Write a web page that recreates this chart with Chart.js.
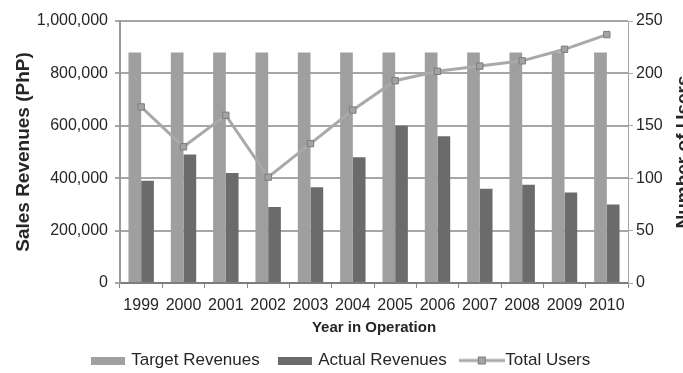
<!DOCTYPE html>
<html>
<head>
<meta charset="utf-8">
<script src="https://cdn.jsdelivr.net/npm/chart.js@4/dist/chart.umd.min.js"></script>
<style>
  html, body { margin: 0; padding: 0; background: #fff; overflow: hidden; }
  #wrap { width: 683px; height: 373px; }
</style>
</head>
<body>
<div id="wrap"><canvas id="revChart" width="683" height="373"></canvas></div>
<script>
const years = ['1999', '2000', '2001', '2002', '2003', '2004', '2005', '2006', '2007', '2008', '2009', '2010'];
const targetRevenues = [880000, 880000, 880000, 880000, 880000, 880000, 880000, 880000, 880000, 880000, 880000, 880000];
const actualRevenues = [390000, 490000, 420000, 290000, 365000, 480000, 600000, 560000, 360000, 375000, 345000, 300000];
const totalUsers = [168, 130, 160, 101, 133, 165, 193, 202, 207, 212, 223, 237];

const FONT = '"Liberation Sans", Arial, sans-serif';
const TEXT = '#262626';
const TARGET_COLOR = '#9f9f9f';
const ACTUAL_COLOR = '#6b6b6b';
const LINE_COLOR = '#a9a9a9';

// small legend icons: flat swatches for the bars, line + square for users
function swatch(color) {
  const c = document.createElement('canvas');
  c.width = 34; c.height = 8;
  const g = c.getContext('2d');
  g.fillStyle = color;
  g.fillRect(0, 0, c.width, c.height);
  return c;
}
function lineIcon() {
  const c = document.createElement('canvas');
  c.width = 46; c.height = 10;
  const g = c.getContext('2d');
  g.strokeStyle = LINE_COLOR;
  g.lineWidth = 3;
  g.beginPath(); g.moveTo(0, 5); g.lineTo(46, 5); g.stroke();
  g.fillStyle = '#a3a3a3';
  g.strokeStyle = '#7c7c7c';
  g.lineWidth = 1;
  g.fillRect(19, 1, 8, 8);
  g.strokeRect(19.5, 1.5, 7, 7);
  return c;
}
const legendIcons = {
  'Target Revenues': swatch(TARGET_COLOR),
  'Actual Revenues': swatch(ACTUAL_COLOR),
  'Total Users': lineIcon()
};

// right-hand axis title, reads bottom to top like the left one
const rightTitle = {
  id: 'rightTitle',
  afterDraw(chart) {
    const { ctx, chartArea } = chart;
    ctx.save();
    ctx.translate(674, (chartArea.top + chartArea.bottom) / 2);
    ctx.rotate(-Math.PI / 2);
    ctx.font = 'bold 19px ' + FONT;
    ctx.fillStyle = TEXT;
    ctx.textAlign = 'center';
    ctx.textBaseline = 'top';
    ctx.fillText('Number of Users', 0, 0);
    ctx.restore();
  }
};

const ctx = document.getElementById('revChart').getContext('2d');

const chart = new Chart(ctx, {
  type: 'bar',
  data: {
    labels: years,
    datasets: [
      {
        type: 'line',
        label: 'Total Users',
        data: totalUsers,
        yAxisID: 'y1',
        borderColor: LINE_COLOR,
        borderWidth: 3,
        pointStyle: 'rect',
        pointRadius: 4.5,
        pointBackgroundColor: '#a3a3a3',
        pointBorderColor: '#7c7c7c',
        pointBorderWidth: 1,
        tension: 0,
        fill: false,
        order: 0
      },
      {
        label: 'Target Revenues',
        data: targetRevenues,
        yAxisID: 'y',
        backgroundColor: TARGET_COLOR,
        categoryPercentage: 0.6,
        barPercentage: 1.0,
        order: 1
      },
      {
        label: 'Actual Revenues',
        data: actualRevenues,
        yAxisID: 'y',
        backgroundColor: ACTUAL_COLOR,
        categoryPercentage: 0.6,
        barPercentage: 1.0,
        order: 2
      }
    ]
  },
  options: {
    responsive: false,
    animation: false,
    layout: { padding: { top: 21, right: 0, bottom: -6, left: 0 } },
    plugins: {
      tooltip: { enabled: false },
      legend: {
        position: 'bottom',
        labels: {
          font: { family: FONT, size: 17 },
          color: TEXT,
          usePointStyle: true,
          pointStyleWidth: 30,
          padding: 20,
          generateLabels(chart) {
            const items = Chart.defaults.plugins.legend.labels.generateLabels(chart);
            items.forEach(it => { it.pointStyle = legendIcons[it.text]; });
            return items;
          },
          sort: (a, b) => {
            const order = ['Target Revenues', 'Actual Revenues', 'Total Users'];
            return order.indexOf(a.text) - order.indexOf(b.text);
          }
        }
      }
    },
    scales: {
      x: {
        offset: true,
        grid: {
          offset: true,
          drawOnChartArea: false,
          tickLength: 5,
          color: '#8a8a8a',
          lineWidth: 1
        },
        border: { color: '#7d7d7d', width: 2 },
        ticks: {
          font: { family: FONT, size: 16 },
          color: TEXT,
          padding: 8,
          maxRotation: 0,
          autoSkip: false
        },
        title: {
          display: true,
          text: 'Year in Operation',
          font: { family: FONT, size: 15, weight: 'bold' },
          color: TEXT,
          padding: { top: 0, bottom: -5 }
        },
        afterFit(scale) { scale.height = 49; }
      },
      y: {
        position: 'left',
        min: 0,
        max: 1000000,
        grid: {
          color: '#a6a6a6',
          lineWidth: 2,
          tickLength: 5
        },
        border: { color: '#9a9a9a', width: 2 },
        ticks: {
          stepSize: 200000,
          font: { family: FONT, size: 16 },
          color: TEXT,
          padding: 7,
          callback: v => v.toLocaleString('en-US')
        },
        title: {
          display: true,
          text: 'Sales Revenues (PhP)',
          font: { family: FONT, size: 19, weight: 'bold' },
          color: TEXT,
          padding: { top: 12, bottom: 0 }
        },
        afterFit(scale) { scale.width = 120; }
      },
      y1: {
        position: 'right',
        min: 0,
        max: 250,
        grid: {
          drawOnChartArea: false,
          tickLength: 5,
          color: '#a6a6a6',
          lineWidth: 1
        },
        border: { color: '#a6a6a6', width: 1 },
        ticks: {
          stepSize: 50,
          font: { family: FONT, size: 16 },
          color: TEXT,
          padding: 3
        },
        afterFit(scale) { scale.width = 55; }
      }
    }
  },
  plugins: [rightTitle]
});
</script>
</body>
</html>
